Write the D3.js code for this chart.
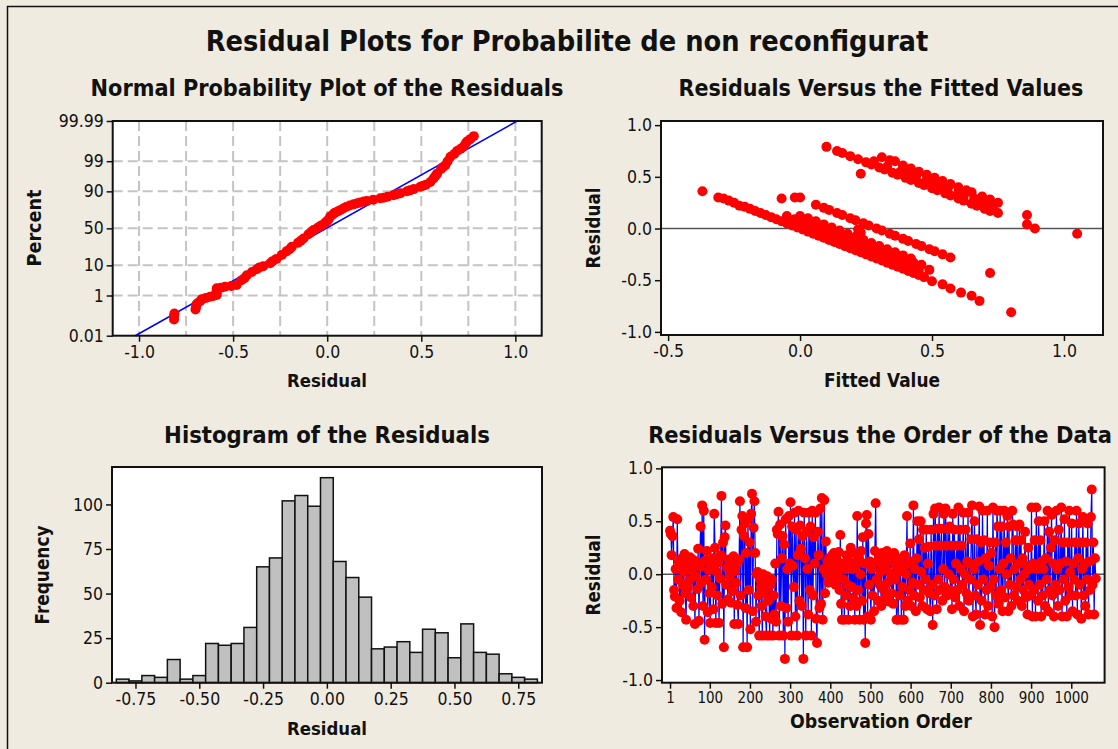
<!DOCTYPE html>
<html>
<head>
<meta charset="utf-8">
<script src="https://cdn.jsdelivr.net/npm/d3@7"></script>
<style>
  body { margin: 0; background: #EFEBE0; }
  svg { display: block; }
</style>
</head>
<body>
<svg id="chart" width="1118" height="749"></svg>
<script>
// ---- Normal probability plot: [residual, percent]
var probPoints = [
  [-0.814, 0.08], [-0.814, 0.12], [-0.812, 0.16],
  [-0.70, 0.25], [-0.697, 0.32], [-0.695, 0.40], [-0.69, 0.47],
  [-0.675, 0.58], [-0.667, 0.71], [-0.645, 0.80], [-0.623, 0.89], [-0.605, 0.95],
  [-0.587, 1.05], [-0.587, 1.3], [-0.587, 1.6], [-0.587, 1.88],
  [-0.565, 2.0], [-0.543, 2.15], [-0.51, 2.3], [-0.481, 2.5],
  [-0.455, 3.6], [-0.427, 5.2], [-0.40, 6.5], [-0.374, 7.9], [-0.34, 9.5],
  [-0.303, 11.3], [-0.27, 14.5], [-0.241, 17.9], [-0.215, 21.5], [-0.188, 26.1],
  [-0.155, 31], [-0.126, 36.3], [-0.10, 42], [-0.073, 47.6], [-0.05, 51],
  [-0.028, 54.4], [-0.01, 58], [0.007, 62], [0.016, 66], [0.04, 70.5],
  [0.069, 73.6], [0.10, 77], [0.14, 79.7], [0.175, 81.5], [0.211, 82.9],
  [0.245, 84], [0.282, 85.1], [0.32, 86.3], [0.353, 87.5], [0.39, 88.8],
  [0.424, 90.1], [0.46, 91.3], [0.495, 92.5], [0.525, 93.5], [0.548, 94.6],
  [0.565, 95.8], [0.584, 97.1], [0.605, 98.0], [0.628, 98.57], [0.64, 99.0],
  [0.655, 99.34], [0.675, 99.5], [0.69, 99.63], [0.71, 99.71], [0.725, 99.77],
  [0.735, 99.83], [0.743, 99.87], [0.76, 99.90], [0.779, 99.93],
  [-0.44, 4.2], [-0.36, 8.8], [-0.29, 12.8], [-0.2, 23.5], [-0.14, 33.5],
  [-0.085, 45], [-0.04, 52.5], [0.0, 60], [0.03, 68.5], [0.055, 72],
  [0.085, 75.5], [0.12, 78.5], [0.16, 80.8], [0.195, 82.3], [0.3, 85.6],
  [0.37, 88.1], [0.44, 90.6], [0.51, 93], [0.575, 96.5], [0.615, 98.3]
];
var probFitLine = [[-1.02, 0.01], [1.01, 99.99]];
var probPctTicks = [0.01, 1, 10, 50, 90, 99, 99.99];
var probPctLabels = ["0.01", "1", "10", "50", "90", "99", "99.99"];
var probPctGrid = [1, 10, 50, 90, 99];
var probXTicks = [-1.0, -0.5, 0, 0.5, 1.0];
var probXGrid = [-1.0, -0.75, -0.5, -0.25, 0, 0.25, 0.5, 0.75, 1.0];

// ---- Residuals versus fitted values: [fitted, residual]
var fittedLowBand = [[-0.31,0.30],[-0.29,0.29],[-0.27,0.27],[-0.25,0.25],[-0.23,0.22],[-0.21,0.21],[-0.19,0.19],[-0.17,0.17],[-0.15,0.15],[-0.13,0.13],[-0.11,0.11],[-0.09,0.09],[-0.07,0.07],[-0.05,0.05],[-0.03,0.03],[-0.01,0.01],[0.01,-0.01],[0.03,-0.03],[0.05,-0.05],[0.07,-0.07],[0.09,-0.09],[0.11,-0.11],[0.13,-0.13],[0.15,-0.15],[0.17,-0.17],[0.19,-0.19],[0.21,-0.21],[0.23,-0.23],[0.25,-0.25],[0.27,-0.27],[0.29,-0.29],[0.31,-0.31],[0.33,-0.33],[0.35,-0.35],[0.37,-0.37],[0.39,-0.39],[0.41,-0.41],[0.43,-0.43],[0.45,-0.45],[0.47,-0.47],[0.50,-0.51],[0.54,-0.54],[0.57,-0.58],[0.61,-0.62],[0.65,-0.65],[0.68,-0.70],[0.80,-0.81]];
var fittedLowBand2 = [[-0.05,0.12],[-0.02,0.09],[0.01,0.06],[0.04,0.03],[0.07,0.00],[0.10,-0.03],[0.13,-0.06],[0.16,-0.09],[0.19,-0.12],[0.22,-0.15],[0.25,-0.18],[0.28,-0.21],[0.31,-0.24],[0.34,-0.27],[0.37,-0.30],[0.40,-0.33],[0.43,-0.36]];
var fittedLowBand3 = [[0.00,0.12],[0.03,0.10],[0.06,0.07],[0.09,0.04],[0.12,0.01],[0.15,-0.02],[0.18,-0.05],[0.21,-0.08],[0.24,-0.11],[0.27,-0.14],[0.30,-0.17],[0.33,-0.20],[0.36,-0.23],[0.39,-0.26],[0.42,-0.29],[0.43,-0.33],[0.46,-0.35],[0.49,-0.40]];
var fittedLowBand4 = [[0.03,0.01],[0.06,-0.02],[0.09,-0.05],[0.12,-0.08],[0.15,-0.11],[0.18,-0.14],[0.21,-0.17],[0.24,-0.20],[0.27,-0.23],[0.30,-0.26],[0.33,-0.29],[0.36,-0.32],[0.39,-0.35],[0.42,-0.38],[0.45,-0.41]];
var fittedMidBand = [[0.06,0.23],[0.09,0.20],[0.11,0.18],[0.14,0.15],[0.16,0.13],[0.19,0.10],[0.21,0.08],[0.24,0.05],[0.26,0.03],[0.29,0.00],[0.31,-0.02],[0.34,-0.05],[0.36,-0.07],[0.39,-0.10],[0.41,-0.12],[0.44,-0.15],[0.46,-0.17],[0.49,-0.20],[0.51,-0.22],[0.54,-0.25],[0.57,-0.28],[0.22,-0.01],[0.23,-0.04],[0.72,-0.43]];
var fittedHighBand = [[0.10,0.79],[0.14,0.75],[0.16,0.73],[0.19,0.70],[0.22,0.67],[0.25,0.64],[0.27,0.62],[0.30,0.59],[0.32,0.57],[0.35,0.54],[0.37,0.52],[0.40,0.49],[0.42,0.47],[0.45,0.44],[0.47,0.42],[0.50,0.39],[0.52,0.37],[0.55,0.34],[0.57,0.32],[0.60,0.29],[0.62,0.27],[0.65,0.24],[0.67,0.22],[0.70,0.19],[0.72,0.17],[0.75,0.15],[0.86,0.04],[0.89,0.00]];
var fittedHighBand2 = [[0.31,0.69],[0.34,0.66],[0.36,0.65],[0.39,0.61],[0.42,0.58],[0.45,0.55],[0.48,0.52],[0.51,0.49],[0.54,0.46],[0.57,0.43],[0.60,0.40],[0.63,0.37],[0.65,0.35],[0.69,0.31],[0.72,0.28],[0.75,0.25],[0.86,0.13],[1.05,-0.05]];
var fittedHighBand3 = [[0.40,0.55],[0.44,0.51],[0.48,0.47],[0.52,0.43],[0.56,0.39],[0.60,0.35],[0.66,0.29],[0.70,0.25],[0.28,0.65],[0.33,0.60],[0.38,0.55],[0.43,0.50],[0.50,0.43],[0.55,0.38],[0.62,0.31],[0.68,0.25],[0.73,0.20]];
var fittedIsolated = [[-0.37,0.36],[-0.07,0.29],[-0.02,0.30],[0.00,0.30],[0.23,0.53]];
var fitXTicks = [-0.5, 0, 0.5, 1.0];
var residTicks = [-1.0, -0.5, 0, 0.5, 1.0];

// ---- Histogram of the residuals
var histCenters = [-0.80,-0.75,-0.70,-0.65,-0.60,-0.55,-0.50,-0.45,-0.40,-0.35,-0.30,-0.25,-0.20,-0.15,-0.10,-0.05,0.00,0.05,0.10,0.15,0.20,0.25,0.30,0.35,0.40,0.45,0.50,0.55,0.60,0.65,0.70,0.75,0.80];
var histCounts = [2,1,4,3,13,2,4,22,21,22,31,65,70,102,105,99,115,68,59,48,19,20,23,17,30,28,14,33,17,16,5,3,2];
var histBinWidth = 0.05;
var histXTicks = [-0.75, -0.50, -0.25, 0, 0.25, 0.50, 0.75];
var histYTicks = [0, 25, 50, 75, 100];

// ---- Residuals versus observation order (every 2nd observation, from 1)
var obsStep = 2;
var orderResidA = [
  0.41,0.38,0.18,0.36,0.54,-0.15,-0.21,0.05,-0.32,0.52,-0.05,0.12,-0.25,0.08,-0.36,0.15,-0.1,0.02,0.19,-0.18,-0.43,0.06,-0.12,0.1,-0.06,
  0.16,-0.22,0.03,0.14,-0.3,0.09,-0.47,-0.02,0.12,-0.14,0.24,-0.44,0.07,0.45,-0.08,0.65,-0.3,0.6,-0.62,0.13,-0.05,0.22,-0.36,0.04,-0.18,
  -0.46,0.08,-0.12,0.15,-0.33,0.57,0.25,-0.46,0.02,-0.2,0.11,-0.46,-0.04,0.18,0.74,-0.28,0.3,-0.69,0.35,0.46,-0.1,0.06,-0.24,0.14,-0.02,
  0.12,-0.27,0.05,-0.16,0.17,-0.47,0.03,-0.08,0.1,-0.29,-0.47,0.14,0.69,-0.2,0.42,0.55,-0.69,0.36,0.48,-0.32,0.2,-0.69,0.52,-0.15,0.3,
  -0.52,0.57,0.76,-0.35,0.44,0.69,0.2,-0.45,0.0,0.02,-0.2,-0.58,-0.05,-0.12,-0.3,-0.58,0.0,-0.18,-0.08,-0.4,-0.58,-0.02,-0.25,-0.12,-0.58,
  -0.1,-0.42,-0.05,-0.58,-0.2,-0.38,0.1,-0.45,0.42,0.38,0.59,-0.58,0.47,-0.3,0.15,0.36,-0.58,0.28,-0.8,0.52,-0.32,0.05,-0.45,0.55,0.1,
  0.68,-0.58,0.45,0.08,-0.12,0.58,-0.4,0.42,-0.58,0.18,0.6,-0.25,0.46,0.24,-0.3,0.36,-0.8,0.58,0.15,-0.58,0.4,0.05,-0.38,0.58,-0.15,
  0.45,-0.58,0.6,-0.2,0.35,0.1,0.58,-0.42,-0.65,0.4,0.18,-0.32,0.62,-0.28,0.72,-0.43,0.05,0.7,-0.18,0.31,0.0,0.12,-0.08,0.15,0.04
];
var orderResidB = [
  0.1,0.02,0.18,-0.05,0.2,0.08,-0.1,0.15,0.03,-0.02,0.21,-0.15,0.37,-0.28,-0.43,0.1,-0.05,-0.43,0.05,-0.2,0.18,-0.1,-0.43,0.12,-0.3,
  0.25,-0.12,0.05,-0.22,0.2,-0.43,0.08,-0.3,0.55,-0.15,0.15,-0.43,0.0,0.22,-0.25,0.35,-0.43,0.1,-0.65,0.48,0.56,-0.4,0.38,-0.1,0.12,
  -0.43,0.05,-0.2,0.1,-0.35,0.22,0.67,-0.05,0.12,-0.25,0.18,-0.1,0.02,-0.3,0.2,0.08,-0.15,0.15,-0.22,0.05,0.22,-0.08,0.12,-0.26,0.18,
  0.0,-0.18,0.12,-0.28,0.2,-0.05,0.08,-0.43,0.15,-0.43,0.02,-0.2,0.1,-0.43,-0.12,0.05,-0.43,0.18,-0.3,0.0,0.55,-0.25,0.1,-0.15,0.29,
  -0.3,0.12,-0.08,0.65,-0.2,0.05,-0.35,0.15,0.5,-0.1,0.33,-0.22,0.5,0.02,-0.3,0.42,-0.15,0.25,-0.05,0.42,-0.33,0.1,0.26,-0.18,-0.35,
  0.42,-0.1,-0.48,0.57,-0.2,0.62,0.27,-0.33,0.43,-0.05,0.63,-0.15,0.27,0.43,-0.25,0.05,0.57,-0.12,0.62,0.27,-0.2,0.43,0.0,0.45,-0.15,
  0.27,-0.33,0.57,-0.05,0.42,-0.22,0.1,0.27,-0.15,0.63,-0.3,0.42,0.05,0.27,-0.1,0.58,-0.35,0.0,0.42,-0.18,0.12,0.58,-0.25,0.1,-0.05,
  0.33,0.65,-0.4,0.05,0.5,-0.2,-0.38,0.33,-0.1,0.12,0.64,-0.48,0.3,-0.25,0.6,-0.05,0.32,-0.38,0.15,-0.15,0.6,-0.3,0.08,0.3,-0.12
];
var orderResidC = [
  0.2,-0.4,0.63,-0.05,-0.5,0.3,-0.2,0.6,0.45,-0.28,0.05,0.6,-0.15,0.45,-0.35,0.1,0.6,-0.22,0.3,0.0,0.55,-0.35,0.45,-0.1,0.15,
  -0.3,0.6,0.47,-0.2,0.05,0.32,-0.12,0.45,-0.25,0.1,0.47,-0.05,0.32,-0.3,0.15,-0.15,0.0,0.4,-0.22,0.08,-0.38,0.25,-0.1,0.05,-0.2,
  0.63,-0.4,0.1,-0.15,0.32,-0.4,0.63,0.05,-0.25,0.5,-0.1,0.32,-0.4,0.12,-0.2,0.05,0.5,-0.3,0.15,-0.05,0.6,-0.35,0.4,-0.15,0.25,
  0.56,-0.2,0.1,-0.4,0.32,-0.1,0.6,0.05,-0.3,0.42,-0.15,0.1,0.63,-0.4,0.3,-0.05,0.52,-0.25,0.12,-0.4,0.3,-0.12,0.6,0.02,-0.2,
  0.48,-0.35,0.1,-0.05,0.3,-0.2,0.6,-0.38,0.15,0.48,-0.1,0.3,-0.42,0.05,0.54,-0.2,0.1,-0.3,0.3,-0.05,0.48,-0.38,0.12,-0.15,0.54,
  0.8,-0.1,0.3,-0.38,0.15,-0.04
];
var orderXTicks = [1, 100, 200, 300, 400, 500, 600, 700, 800, 900, 1000];

var mainTitle = "Residual Plots for Probabilite de non reconfigurat";

// ---------------------------------------------------------------
var FONT = "'DejaVu Sans Condensed', 'DejaVu Sans', sans-serif";
var RED = "#FF0000", BLUE = "#0000FF";
var svg = d3.select("#chart");

svg.append("rect").attr("width", 1118).attr("height", 749).attr("fill", "#EFEBE0");
// outer frame (top and left edges visible)
svg.append("path").attr("d", "M7.5,749 V6.5 H1118").attr("fill", "none")
    .attr("stroke", "#111").attr("stroke-width", 1.5);

function fitText(sel, width) {
    var w = sel.node().getComputedTextLength();
    sel.attr("font-size", parseFloat(sel.attr("font-size")) * width / w);
    return sel;
}

function addText(txt, x, y, size, bold, width, rotate) {
    var t = svg.append("text")
        .attr("x", x).attr("y", y)
        .attr("text-anchor", "middle")
        .attr("font-family", FONT)
        .attr("font-size", size)
        .attr("font-weight", bold ? "bold" : "normal")
        .attr("fill", "#111")
        .text(txt);
    if (rotate) t.attr("transform", "rotate(-90," + x + "," + y + ")");
    if (width) fitText(t, width);
    return t;
}

function styleAxis(g, fs) {
    g.attr("font-family", FONT).attr("font-size", fs);
    g.select(".domain").remove();
    g.selectAll(".tick line").attr("stroke", "#111").attr("stroke-width", 1.5);
    g.selectAll(".tick text").attr("fill", "#111");
}

function plotBox(b) {
    svg.append("rect").attr("x", b.x0).attr("y", b.y0)
        .attr("width", b.x1 - b.x0).attr("height", b.y1 - b.y0).attr("fill", "#fff");
}
function plotFrame(b) {
    svg.append("rect").attr("x", b.x0).attr("y", b.y0)
        .attr("width", b.x1 - b.x0).attr("height", b.y1 - b.y0)
        .attr("fill", "none").attr("stroke", "#111").attr("stroke-width", 2);
}

// normal quantile (Acklam's approximation) for the probability axis
function probit(p) {
    var a = [-3.969683028665376e+01, 2.209460984245205e+02, -2.759285104469687e+02, 1.383577518672690e+02, -3.066479806614716e+01, 2.506628277459239e+00];
    var b = [-5.447609879822406e+01, 1.615858368580409e+02, -1.556989798598866e+02, 6.680131188771972e+01, -1.328068155288572e+01];
    var c = [-7.784894002430293e-03, -3.223964580411365e-01, -2.400758277161838e+00, -2.549732539343734e+00, 4.374664141464968e+00, 2.938163982698783e+00];
    var d = [7.784695709041462e-03, 3.224671290700398e-01, 2.445134137142996e+00, 3.754408661907416e+00];
    var q, r;
    if (p < 0.02425) {
        q = Math.sqrt(-2 * Math.log(p));
        return (((((c[0]*q+c[1])*q+c[2])*q+c[3])*q+c[4])*q+c[5]) / ((((d[0]*q+d[1])*q+d[2])*q+d[3])*q+1);
    }
    if (p > 1 - 0.02425) {
        q = Math.sqrt(-2 * Math.log(1 - p));
        return -(((((c[0]*q+c[1])*q+c[2])*q+c[3])*q+c[4])*q+c[5]) / ((((d[0]*q+d[1])*q+d[2])*q+d[3])*q+1);
    }
    q = p - 0.5; r = q * q;
    return (((((a[0]*r+a[1])*r+a[2])*r+a[3])*r+a[4])*r+a[5])*q / (((((b[0]*r+b[1])*r+b[2])*r+b[3])*r+b[4])*r+1);
}

var TICK_FS = 17.5, DOT_R = 5;

// titles
addText(mainTitle, 567, 51, 28, true, 723);
addText("Normal Probability Plot of the Residuals", 327, 96, 20, true, 473);
addText("Residuals Versus the Fitted Values", 881, 96, 20, true, 405);
addText("Histogram of the Residuals", 327, 443, 20, true, 326);
addText("Residuals Versus the Order of the Data", 880, 443, 20, true, 464);

// ================= Normal probability plot =================
var b1 = {x0: 112.7, x1: 541.7, y0: 121, y1: 335.7};
var x1 = d3.scaleLinear().domain([-1.14, 1.14]).range([b1.x0, b1.x1]);
var z1 = d3.scaleLinear().domain([probit(0.0001), probit(0.9999)]).range([b1.y1, b1.y0]);
function yPct(p) { return z1(probit(p / 100)); }

plotBox(b1);
var grid1 = svg.append("g").attr("stroke", "#C4C4C4").attr("stroke-width", 2).attr("stroke-dasharray", "10,5");
grid1.selectAll(".gv").data(probXGrid).join("line")
    .attr("x1", function(d) { return x1(d); }).attr("x2", function(d) { return x1(d); })
    .attr("y1", b1.y0).attr("y2", b1.y1);
grid1.selectAll(".gh").data(probPctGrid).join("line")
    .attr("y1", function(d) { return yPct(d); }).attr("y2", function(d) { return yPct(d); })
    .attr("x1", b1.x0).attr("x2", b1.x1);

svg.append("line")
    .attr("x1", x1(probFitLine[0][0])).attr("y1", yPct(probFitLine[0][1]))
    .attr("x2", x1(probFitLine[1][0])).attr("y2", yPct(probFitLine[1][1]))
    .attr("stroke", BLUE).attr("stroke-width", 1.6);

svg.append("g").selectAll("circle").data(probPoints).join("circle")
    .attr("cx", function(d) { return x1(d[0]); })
    .attr("cy", function(d) { return yPct(d[1]); })
    .attr("r", DOT_R).attr("fill", RED);
plotFrame(b1);

styleAxis(svg.append("g").attr("transform", "translate(0," + b1.y1 + ")")
    .call(d3.axisBottom(x1).tickValues(probXTicks).tickSize(6).tickPadding(4)
        .tickFormat(function(d) { return d.toFixed(1); })), TICK_FS);
styleAxis(svg.append("g").attr("transform", "translate(" + b1.x0 + ",0)")
    .call(d3.axisLeft(z1).tickValues(probPctTicks.map(function(p) { return probit(p / 100); }))
        .tickSize(6).tickPadding(3)
        .tickFormat(function(d, i) { return probPctLabels[i]; })), TICK_FS);
addText("Residual", 327, 387, 18, true, 80);
addText("Percent", 41, 228, 18, true, 77, true);

// ================= Residuals vs fitted =================
var b2 = {x0: 661, x1: 1103, y0: 121, y1: 335};
var x2 = d3.scaleLinear().domain([-0.527, 1.148]).range([b2.x0, b2.x1]);
var y2 = d3.scaleLinear().domain([-1.03, 1.04]).range([b2.y1, b2.y0]);
var fittedAll = [].concat(fittedLowBand, fittedLowBand2, fittedLowBand3, fittedLowBand4, fittedMidBand,
    fittedHighBand, fittedHighBand2, fittedHighBand3, fittedIsolated);

plotBox(b2);
svg.append("line").attr("x1", b2.x0).attr("x2", b2.x1).attr("y1", y2(0)).attr("y2", y2(0))
    .attr("stroke", "#555").attr("stroke-width", 1.6);
svg.append("g").selectAll("circle").data(fittedAll).join("circle")
    .attr("cx", function(d) { return x2(d[0]); })
    .attr("cy", function(d) { return y2(d[1]); })
    .attr("r", DOT_R).attr("fill", RED);
plotFrame(b2);
styleAxis(svg.append("g").attr("transform", "translate(0," + b2.y1 + ")")
    .call(d3.axisBottom(x2).tickValues(fitXTicks).tickSize(6).tickPadding(4)
        .tickFormat(function(d) { return d.toFixed(1); })), TICK_FS);
styleAxis(svg.append("g").attr("transform", "translate(" + b2.x0 + ",0)")
    .call(d3.axisLeft(y2).tickValues(residTicks).tickSize(6).tickPadding(3)
        .tickFormat(function(d) { return d.toFixed(1); })), TICK_FS);
addText("Fitted Value", 882, 387, 18, true, 116);
addText("Residual", 600, 228, 18, true, 81, true);

// ================= Histogram =================
var b3 = {x0: 112, x1: 542, y0: 467, y1: 682.7};
var x3 = d3.scaleLinear().domain([-0.842, 0.843]).range([b3.x0, b3.x1]);
var y3 = d3.scaleLinear().domain([0, 121]).range([b3.y1, b3.y0]);
plotBox(b3);
svg.append("g").selectAll("rect").data(histCenters).join("rect")
    .attr("x", function(d) { return x3(d - histBinWidth / 2); })
    .attr("width", function(d) { return x3(d + histBinWidth / 2) - x3(d - histBinWidth / 2); })
    .attr("y", function(d, i) { return y3(histCounts[i]); })
    .attr("height", function(d, i) { return y3(0) - y3(histCounts[i]); })
    .attr("fill", "#C0C0C0").attr("stroke", "#111").attr("stroke-width", 1.5);
plotFrame(b3);
styleAxis(svg.append("g").attr("transform", "translate(0," + b3.y1 + ")")
    .call(d3.axisBottom(x3).tickValues(histXTicks).tickSize(6).tickPadding(4)
        .tickFormat(function(d) { return d.toFixed(2); })), TICK_FS);
styleAxis(svg.append("g").attr("transform", "translate(" + b3.x0 + ",0)")
    .call(d3.axisLeft(y3).tickValues(histYTicks).tickSize(6).tickPadding(3)
        .tickFormat(function(d) { return String(d); })), TICK_FS);
addText("Residual", 327, 735, 18, true, 80);
addText("Frequency", 49, 575, 18, true, 99, true);

// ================= Residuals vs order =================
var b4 = {x0: 662, x1: 1104.6, y0: 467.3, y1: 682.7};
var x4 = d3.scaleLinear().domain([-19, 1083]).range([b4.x0, b4.x1]);
var y4 = d3.scaleLinear().domain([-1.025, 1.01]).range([b4.y1, b4.y0]);
var orderResid = [].concat(orderResidA, orderResidB, orderResidC);
var orderPts = orderResid.map(function(r, i) { return [1 + i * obsStep, r]; });

plotBox(b4);
svg.append("line").attr("x1", b4.x0).attr("x2", b4.x1).attr("y1", y4(0)).attr("y2", y4(0))
    .attr("stroke", "#555").attr("stroke-width", 1.6);
svg.append("path").datum(orderPts)
    .attr("d", d3.line().x(function(d) { return x4(d[0]); }).y(function(d) { return y4(d[1]); }))
    .attr("fill", "none").attr("stroke", BLUE).attr("stroke-width", 1.2);
svg.append("g").selectAll("circle").data(orderPts).join("circle")
    .attr("cx", function(d) { return x4(d[0]); })
    .attr("cy", function(d) { return y4(d[1]); })
    .attr("r", DOT_R).attr("fill", RED);
plotFrame(b4);
styleAxis(svg.append("g").attr("transform", "translate(0," + b4.y1 + ")")
    .call(d3.axisBottom(x4).tickValues(orderXTicks).tickSize(6).tickPadding(4)
        .tickFormat(function(d) { return String(d); })), 15);
styleAxis(svg.append("g").attr("transform", "translate(" + b4.x0 + ",0)")
    .call(d3.axisLeft(y4).tickValues(residTicks).tickSize(6).tickPadding(3)
        .tickFormat(function(d) { return d.toFixed(1); })), TICK_FS);
addText("Observation Order", 881, 728, 18, true, 182);
addText("Residual", 600, 575, 18, true, 81, true);
</script>
</body>
</html>
